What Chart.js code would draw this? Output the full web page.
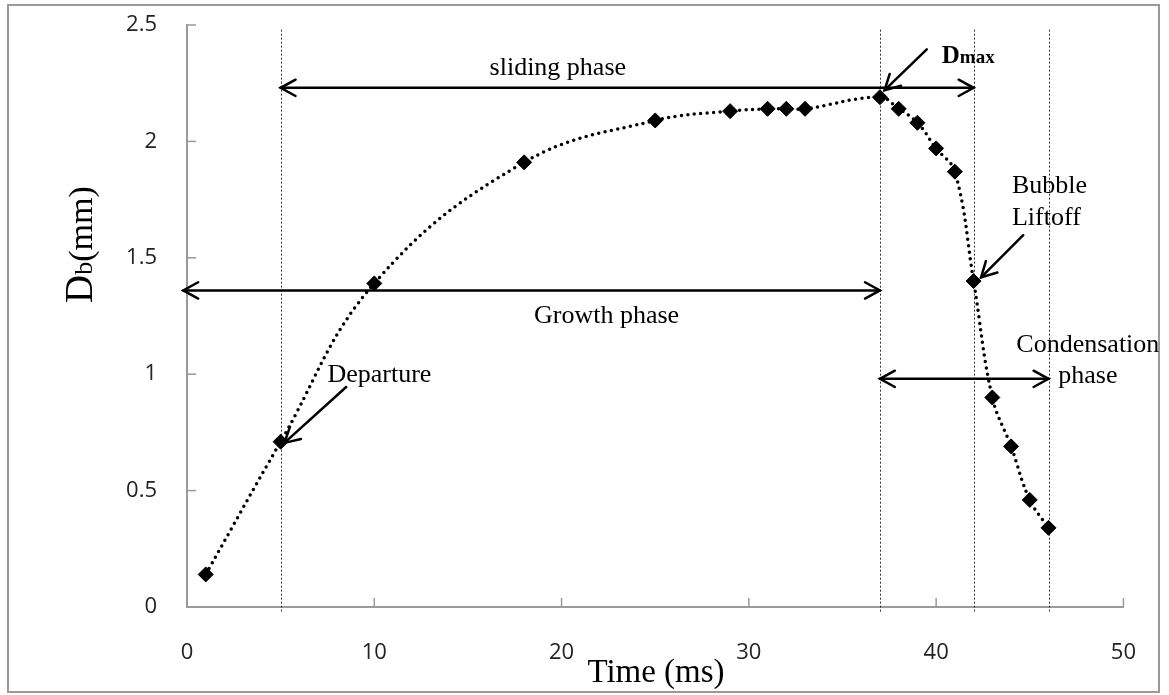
<!DOCTYPE html>
<html>
<head>
<meta charset="utf-8">
<script src="https://cdn.jsdelivr.net/npm/chart.js@4.4.1/dist/chart.umd.min.js"></script>
<style>
  html, body { margin: 0; padding: 0; background: #fff; }
  canvas { display: block; }
</style>
</head>
<body>
<canvas id="bubbleChart" width="1169" height="695"></canvas>
<script>
// bubble diameter vs time
const times = [1, 5, 10, 18, 25, 29, 31, 32, 33, 37, 38, 39, 40, 41, 42, 43, 44, 45, 46];
const diameters = [0.14, 0.71, 1.39, 1.91, 2.09, 2.13, 2.14, 2.14, 2.14, 2.19, 2.14, 2.08, 1.97, 1.87, 1.40, 0.90, 0.69, 0.46, 0.34];

const xTicks = [0, 10, 20, 30, 40, 50];
const yTicks = [0, 0.5, 1, 1.5, 2, 2.5];

// phase boundaries (ms)
const phaseLines = [5, 37, 42, 46];

// double arrows: [fromX, toX, y]
const phaseSpans = [
  [5, 42, 2.23],
  [-0.2, 37, 1.36],
  [37, 46, 0.98]
];

// labels: [text, x, y, align]
const phaseLabels = [
  ['sliding phase', 19.8, 2.285, 'center'],
  ['Growth phase', 22.4, 1.22, 'center'],
  ['Departure', 7.5, 0.965, 'left'],
  ['Bubble', 44.05, 1.777, 'left'],
  ['Liftoff', 44.05, 1.639, 'left'],
  ['Condensation', 48.1, 1.094, 'center'],
  ['phase', 48.1, 0.961, 'center']
];

// pointer arrows: [x1, y1, x2, y2] (tip at x2,y2)
const pointers = [
  [8.5, 0.945, 5.2, 0.705],
  [39.5, 2.395, 37.25, 2.22],
  [44.65, 1.597, 42.4, 1.416]
];

const ctx = document.getElementById('bubbleChart').getContext('2d');

function arrowHead(c, x, y, ang) {
  const len = 17, spread = 0.5;
  c.beginPath();
  c.moveTo(x + len * Math.cos(ang + spread), y + len * Math.sin(ang + spread));
  c.lineTo(x, y);
  c.lineTo(x + len * Math.cos(ang - spread), y + len * Math.sin(ang - spread));
  c.stroke();
}

const decorPlugin = {
  id: 'decor',
  beforeDraw(chart) {
    const c = chart.ctx;
    c.save();
    c.fillStyle = '#fff';
    c.fillRect(0, 0, chart.width, chart.height);
    c.strokeStyle = '#9a9a9a';
    c.lineWidth = 2;
    c.strokeRect(8, 5, 1151, 687);
    c.restore();
  },
  beforeDatasetsDraw(chart) {
    const c = chart.ctx, xs = chart.scales.x, ys = chart.scales.y;
    c.save();
    // inside tick marks
    c.strokeStyle = '#9a9a9a';
    c.lineWidth = 1.5;
    xTicks.forEach(v => {
      const px = xs.getPixelForValue(v);
      c.beginPath(); c.moveTo(px, ys.bottom); c.lineTo(px, ys.bottom - 9); c.stroke();
    });
    yTicks.forEach(v => {
      const py = ys.getPixelForValue(v);
      c.beginPath(); c.moveTo(xs.left, py); c.lineTo(xs.left + 9, py); c.stroke();
    });
    // phase boundaries
    c.strokeStyle = '#333';
    c.lineWidth = 1;
    c.setLineDash([2, 2]);
    phaseLines.forEach(v => {
      const px = Math.round(xs.getPixelForValue(v)) + 0.5;
      c.beginPath();
      c.moveTo(px, ys.getPixelForValue(2.48));
      c.lineTo(px, ys.getPixelForValue(-0.02));
      c.stroke();
    });
    c.restore();
  },
  afterDatasetsDraw(chart) {
    const c = chart.ctx, xs = chart.scales.x, ys = chart.scales.y;
    c.save();
    c.strokeStyle = '#000';
    c.lineWidth = 2.5;
    c.lineCap = 'round';
    phaseSpans.forEach(([a, b, y]) => {
      const x1 = xs.getPixelForValue(a), x2 = xs.getPixelForValue(b), py = ys.getPixelForValue(y);
      c.beginPath(); c.moveTo(x1, py); c.lineTo(x2, py); c.stroke();
      arrowHead(c, x1, py, 0);
      arrowHead(c, x2, py, Math.PI);
    });
    pointers.forEach(([a, b, d, e]) => {
      const x1 = xs.getPixelForValue(a), y1 = ys.getPixelForValue(b);
      const x2 = xs.getPixelForValue(d), y2 = ys.getPixelForValue(e);
      c.beginPath(); c.moveTo(x1, y1); c.lineTo(x2, y2); c.stroke();
      arrowHead(c, x2, y2, Math.atan2(y1 - y2, x1 - x2));
    });

    c.fillStyle = '#000';
    c.textBaseline = 'alphabetic';
    c.font = '26px "Liberation Serif"';
    phaseLabels.forEach(([t, x, y, al]) => {
      c.textAlign = al;
      c.fillText(t, xs.getPixelForValue(x), ys.getPixelForValue(y));
    });

    // Dmax label
    c.textAlign = 'left';
    let dx = xs.getPixelForValue(40.3), dy = ys.getPixelForValue(2.335);
    c.font = 'bold 25px "Liberation Serif"';
    c.fillText('D', dx, dy);
    dx += c.measureText('D').width;
    c.font = 'bold 19px "Liberation Serif"';
    c.fillText('max', dx, dy);

    // axis titles
    c.font = '33px "Liberation Serif"';
    c.textAlign = 'center';
    c.fillText('Time (ms)', 656, 682);

    c.translate(92, 303);
    c.rotate(-Math.PI / 2);
    c.textAlign = 'left';
    let tx = 0;
    c.font = '39px "Liberation Serif"';
    c.fillText('D', tx, 0); tx += c.measureText('D').width;
    c.font = '26px "Liberation Serif"';
    c.fillText('b', tx, 0); tx += c.measureText('b').width;
    c.font = '34px "Liberation Serif"';
    c.fillText('(mm)', tx, 0);
    c.restore();
  }
};

new Chart(ctx, {
  type: 'scatter',
  data: {
    datasets: [{
      label: 'Db',
      data: times.map((t, i) => ({ x: t, y: diameters[i] })),
      showLine: true,
      tension: 0.4,
      borderColor: '#000',
      borderWidth: 3.5,
      borderDash: [0, 6.5],
      borderCapStyle: 'round',
      pointStyle: 'rectRot',
      pointRadius: 7.5,
      pointBackgroundColor: '#000',
      pointBorderColor: '#000',
      pointBorderWidth: 1
    }]
  },
  options: {
    responsive: false,
    animation: false,
    layout: { padding: { left: 0, top: 25, right: 45, bottom: 0 } },
    plugins: {
      legend: { display: false },
      tooltip: { enabled: false }
    },
    scales: {
      x: {
        type: 'linear',
        min: 0,
        max: 50,
        afterFit(s) { s.height = 88; },
        afterBuildTicks(s) { s.ticks = xTicks.map(v => ({ value: v })); },
        grid: { display: false, drawTicks: false },
        border: { display: true, color: '#9a9a9a', width: 2 },
        ticks: {
          padding: 33,
          color: '#222',
          font: { family: '"Open Sans"', size: 22 },
          callback: v => String(v)
        }
      },
      y: {
        type: 'linear',
        min: 0,
        max: 2.5,
        afterFit(s) { s.width = 187; s.paddingTop = 12; s.paddingBottom = 12; },
        afterBuildTicks(s) { s.ticks = yTicks.map(v => ({ value: v })); },
        grid: { display: false, drawTicks: false },
        border: { display: true, color: '#9a9a9a', width: 2 },
        ticks: {
          padding: 30,
          color: '#222',
          font: { family: '"Open Sans"', size: 22 },
          callback: v => String(v)
        }
      }
    }
  },
  plugins: [decorPlugin]
});
</script>
</body>
</html>
